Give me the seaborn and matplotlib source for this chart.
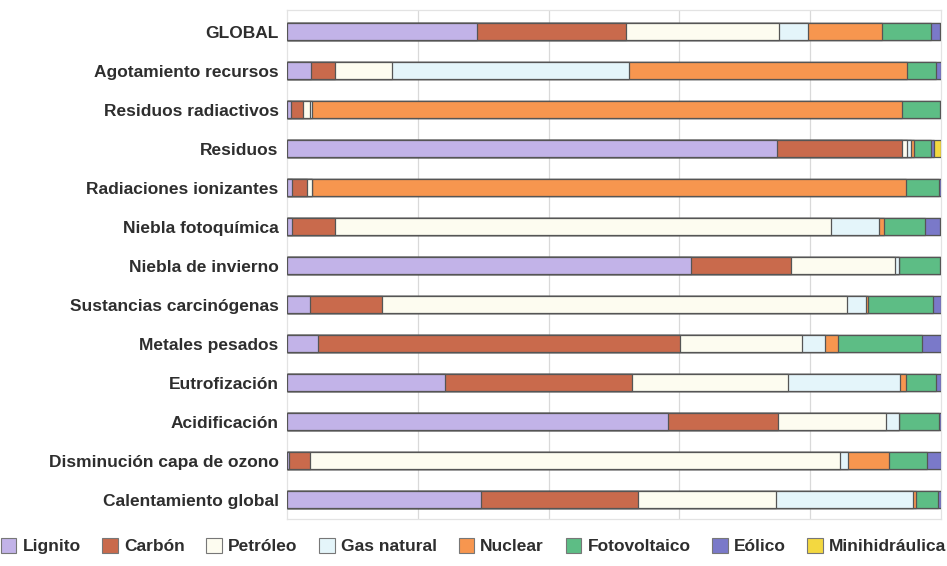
import matplotlib
matplotlib.use("Agg")
import matplotlib.pyplot as plt
from matplotlib.patches import Patch
import numpy as np
import pandas as pd
import seaborn as sns

categorias = [
    "GLOBAL",
    "Agotamiento recursos",
    "Residuos radiactivos",
    "Residuos",
    "Radiaciones ionizantes",
    "Niebla fotoquímica",
    "Niebla de invierno",
    "Sustancias carcinógenas",
    "Metales pesados",
    "Eutrofización",
    "Acidificación",
    "Disminución capa de ozono",
    "Calentamiento global",
]

fuentes = ["Lignito", "Carbón", "Petróleo", "Gas natural", "Nuclear",
           "Fotovoltaico", "Eólico", "Minihidráulica"]

# Porcentaje de cada fuente en cada categoría de impacto
lignito      = [29.0, 3.7, 0.6, 74.9, 0.7, 0.8, 61.8, 3.5, 4.8, 24.2, 58.3, 0.3, 29.7]
carbon       = [22.9, 3.6, 1.9, 19.1, 2.4, 6.6, 15.2, 11.1, 55.3, 28.5, 16.8, 3.3, 23.9]
petroleo     = [23.3, 8.7, 1.1, 0.8, 0.7, 75.8, 15.9, 71.1, 18.6, 23.9, 16.5, 80.9, 21.1]
gas_natural  = [4.5, 36.3, 0.2, 0.6, 0.0, 7.3, 0.7, 2.9, 3.6, 17.1, 2.0, 1.3, 21.0]
nuclear      = [11.3, 42.5, 90.3, 0.5, 90.8, 0.8, 0.0, 0.2, 1.9, 0.9, 0.0, 6.3, 0.5]
fotovoltaico = [7.5, 4.5, 5.7, 2.6, 5.1, 6.2, 6.2, 10.0, 12.9, 4.7, 6.1, 5.7, 3.3]
eolico       = [1.3, 0.7, 0.2, 0.5, 0.3, 2.4, 0.2, 1.2, 2.9, 0.7, 0.3, 2.2, 0.5]
minihidraulica = [0.2, 0.0, 0.0, 1.0, 0.0, 0.1, 0.0, 0.0, 0.0, 0.0, 0.0, 0.0, 0.0]

colores = ["#c2b3e8", "#c96a4c", "#fdfcf0", "#e4f5fa", "#f7964f",
           "#5dbd85", "#7a79c9", "#f3d840"]

series = [lignito, carbon, petroleo, gas_natural, nuclear,
          fotovoltaico, eolico, minihidraulica]

df = pd.DataFrame(np.array(series).T, columns=fuentes)
df.insert(0, "categoria", categorias)
acum = df[fuentes].cumsum(axis=1)

sns.set_theme(style="white")
plt.rcParams["font.family"] = ["Liberation Sans", "DejaVu Sans"]

fig = plt.figure(figsize=(9.47, 5.66), dpi=100)
ax = fig.add_axes([0.303, 0.083, 0.6907, 0.899])

# Barras apiladas: se dibuja el acumulado de derecha a izquierda
for fuente, color in reversed(list(zip(fuentes, colores))):
    datos = pd.DataFrame({"categoria": categorias, "valor": acum[fuente]})
    sns.barplot(data=datos, x="valor", y="categoria", order=categorias,
                color=color, saturation=1, width=0.44,
                edgecolor="#555555", linewidth=0.9, ax=ax, zorder=3)

ax.set_xlim(0, 100)
ax.set_ylim(12.5, -0.55)
ax.set_xticks([20, 40, 60, 80])
ax.set_xticklabels([])
ax.tick_params(axis="both", length=0)
ax.tick_params(axis="y", pad=6)
ax.grid(axis="x", color="#d9d9d9", linewidth=0.9, zorder=0)
ax.grid(axis="y", visible=False)
ax.set_xlabel("")
ax.set_ylabel("")
for lbl in ax.get_yticklabels():
    lbl.set_fontweight("bold")
    lbl.set_fontsize(12.5)
    lbl.set_color("#2e2e2e")
for s in ax.spines.values():
    s.set_color("#e3e3e3")
    s.set_linewidth(0.9)

handles = [Patch(facecolor=c, edgecolor="#777777", linewidth=0.8, label=f)
           for f, c in zip(fuentes, colores)]
leg = fig.legend(handles=handles, loc="center", bbox_to_anchor=(0.5, 0.035),
                 ncol=8, frameon=False, handlelength=0.9, handleheight=0.9,
                 handletextpad=0.35, columnspacing=1.25,
                 prop={"weight": "bold", "size": 12.5})
for t in leg.get_texts():
    t.set_color("#2e2e2e")

fig.savefig("out.png", dpi=100)
